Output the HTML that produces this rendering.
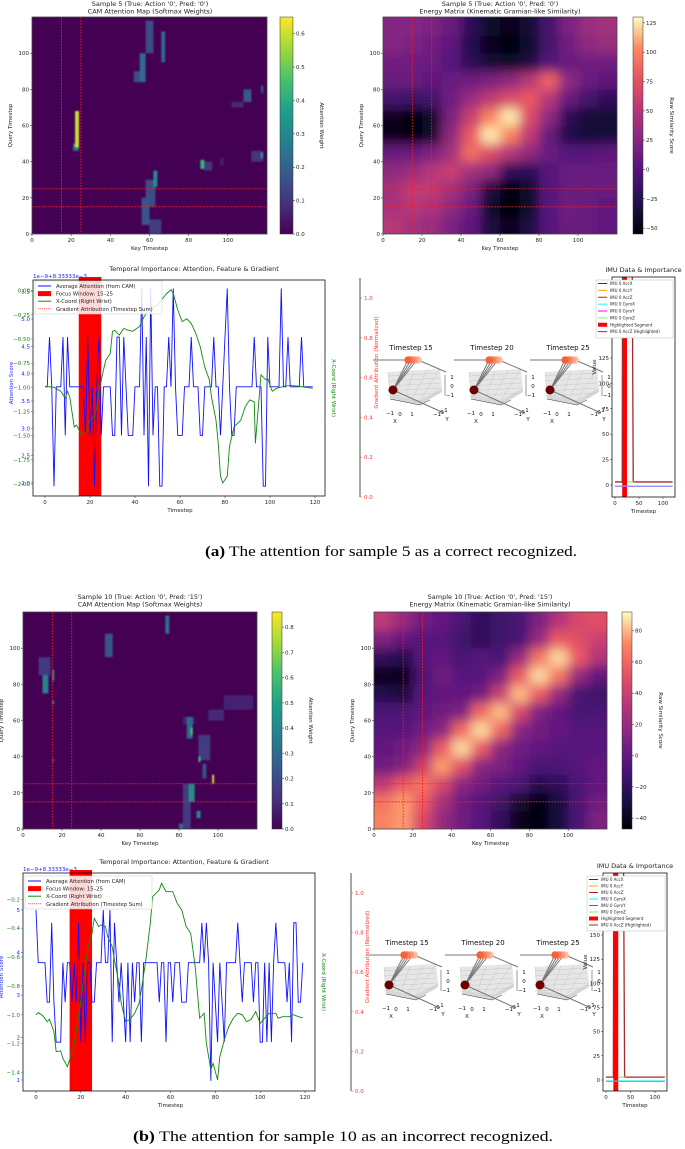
<!DOCTYPE html>
<html><head><meta charset="utf-8">
<style>
html,body{margin:0;padding:0;background:#fff;}
svg{display:block;font-family:"DejaVu Sans","Liberation Sans",sans-serif;}
</style></head>
<body>
<svg id="fig" width="685" height="1149" viewBox="0 0 685 1149" xmlns="http://www.w3.org/2000/svg">
<defs>
<filter id="blurE" x="-10%" y="-10%" width="120%" height="120%"><feGaussianBlur stdDeviation="5.5"/></filter>
<filter id="blurC"><feGaussianBlur stdDeviation="0.9"/></filter>
</defs>
<text x="205" y="556" font-family="Liberation Serif, serif" font-size="15" textLength="372" lengthAdjust="spacingAndGlyphs"><tspan font-weight="bold">(a)</tspan> The attention for sample 5 as a correct recognized.</text>
<text x="133" y="1141" font-family="Liberation Serif, serif" font-size="15" textLength="420" lengthAdjust="spacingAndGlyphs"><tspan font-weight="bold">(b)</tspan> The attention for sample 10 as an incorrect recognized.</text>
</svg>
<script>
// ---------- DATA ----------
const heatKeys = [0,20,40,60,80,100];
const energyA = [
 [50,40,35,20,5,-30,-45,-30,0,10,10,5],
 [45,50,45,30,10,-40,-55,-40,0,15,10,5],
 [40,55,55,40,20,-30,-50,-40,0,10,10,10],
 [30,35,50,60,40,30,-20,-20,0,10,10,10],
 [10,10,20,40,90,70,50,30,10,0,0,5],
 [-45,-50,-40,30,80,125,100,55,10,-25,-35,-35],
 [-45,-50,-40,20,60,100,125,70,30,-20,-35,-35],
 [-10,-15,-10,15,35,55,70,80,50,10,-10,-20],
 [10,10,5,10,15,20,30,50,85,30,10,5],
 [15,15,10,0,-20,-35,-40,-30,0,10,15,15],
 [25,20,15,5,-25,-45,-50,-40,-10,15,30,35],
 [25,25,20,10,-20,-40,-45,-35,-10,20,35,40]];
const energyB = [
 [70,75,45,20,5,-5,-20,-40,-45,-30,-10,10],
 [65,75,55,25,5,-5,-15,-35,-45,-30,-10,5],
 [35,55,65,45,15,5,-5,-10,-25,-20,-10,0],
 [5,10,40,75,50,15,10,0,-10,-10,-5,0],
 [0,5,15,55,85,55,15,5,0,-5,-5,-5],
 [-5,-5,5,15,60,85,60,15,5,0,-5,-5],
 [-10,-10,0,5,10,60,80,45,10,0,-10,-10],
 [-25,-30,-5,0,0,5,40,80,55,20,-10,-15],
 [-40,-40,-10,5,-5,-5,10,55,85,65,20,0],
 [-20,-25,-5,0,-10,-5,-10,20,65,85,55,30],
 [10,0,-5,-5,-15,-20,-15,-10,20,55,50,40],
 [35,20,5,0,-10,-20,-15,-10,10,30,45,50]];
// CAM blobs: [keyStart,keyEnd,queryStart,queryEnd,weight]
const camA = [[21,24,46,50,0.25],[22,24,48,68,0.6],[52,56,84,90,0.15],[55,58,84,100,0.22],[58,62,100,118,0.15],[66,68,95,112,0.22],
 [58,63,15,30,0.15],[56,60,5,20,0.17],[60,66,0,8,0.12],[62,64,26,35,0.32],[86,88,36,41,0.42],[88,92,35,40,0.1],[96,98,38,42,0.05],
 [102,108,70,73,0.08],[108,112,73,80,0.18],[117,118,78,82,0.22],[112,118,40,46,0.1],[117,118,42,45,0.38]];
const camB = [[73,75,108,118,0.32],[42,46,95,108,0.22],[8,14,85,95,0.15],[10,13,75,85,0.38],[15,16,82,88,0.5],[15,16,69,71,0.4],[15,16,37,39,0.2],
 [82,88,58,62,0.08],[84,87,50,62,0.3],[86,87,52,56,0.62],[90,96,38,52,0.15],[90,91,37,40,0.6],[92,94,28,36,0.22],[97,98,25,30,0.8],
 [95,103,60,66,0.1],[103,118,66,74,0.08],[82,86,0,25,0.15],[85,88,15,25,0.42],[89,91,6,10,0.4],[80,82,0,3,0.3]];

const timesteps = Array.from({length:120},(_,i)=>i);
const attnA = [3.76,3.76,4.67,3.76,1.94,3.76,3.76,3.76,4.67,2.87, 4.67,3.76,3.76,3.76,3.76,3.76,3.76,3.76,2.87,4.67,
 2.87,3.76,1.94,3.76,4.67,2.87,3.76,3.76,3.76,3.76, 2.87,2.87,4.67,4.67,2.87,4.67,3.76,2.87,2.87,2.87,
 3.76,3.76,3.76,5.56,2.87,4.67,1.94,5.56,2.87,3.76, 3.76,1.94,1.94,3.76,3.76,4.67,3.76,5.56,3.76,2.87,
 2.87,2.87,3.76,3.76,3.76,4.67,3.76,3.76,3.76,2.87, 2.87,3.76,3.76,3.76,3.76,4.67,3.76,3.76,2.87,3.76,
 4.67,5.56,3.76,2.87,2.87,3.76,3.76,3.76,3.76,3.76, 3.76,3.76,3.76,4.67,3.76,3.76,3.76,1.94,1.94,4.67,
 3.76,3.76,3.76,3.76,3.76,5.56,3.76,3.76,4.67,3.76, 3.76,3.76,3.76,3.76,4.67,3.76,3.76,3.76,3.76,3.76];
const attnB = [5.0,3.76,3.76,3.76,3.76,2.83,2.83,4.7,2.83,1.89, 1.89,1.89,3.76,2.83,3.76,3.76,2.83,3.76,2.83,4.7,
 1.89,3.76,1.89,3.76,3.76,2.83,2.83,3.76,3.76,3.76, 5.0,3.76,3.76,5.0,1.89,4.7,3.76,2.83,3.76,2.83,
 1.89,3.76,1.89,3.76,2.83,3.76,3.76,1.89,3.76,3.76, 3.76,3.76,3.76,3.76,3.76,2.83,3.76,3.76,1.89,3.76,
 3.76,2.83,3.76,3.76,3.76,2.83,2.83,2.83,3.76,3.76, 3.76,3.76,3.76,3.76,4.7,3.76,4.7,3.76,0.98,3.76,
 2.83,1.89,3.76,2.83,1.89,3.76,3.76,3.76,3.76,3.76, 4.7,3.76,2.83,3.76,3.76,3.76,3.76,2.83,3.76,3.76,
 1.89,1.89,3.76,1.89,3.76,1.89,3.76,4.7,3.76,3.76, 3.76,3.76,2.83,3.76,1.89,4.7,4.7,2.83,2.83,3.76];
const wristTA = [0,4,7,9,10,11,13,14,16,18,20,22,23,24,26,27,29,30,31,33,35,37,39,42,44,46,48,50,53,54,56,57,59,61,63,65,67,69,71,73,74,76,77,78,79,81,82,84,87,89,91,93,93.5,96,98,99,101,103,106,109,113,119];
const wristVA = [-0.99,-1.0,-1.04,-1.11,-1.04,-1.1,-1.41,-1.39,-1.48,-1.48,-1.34,-1.3,-1.2,-1.03,-0.82,-0.72,-0.65,-0.42,-0.41,-0.46,-0.39,-0.41,-0.42,-0.37,-0.27,-0.2,-0.17,-0.15,-0.06,-0.03,0.01,-0.03,-0.2,-0.32,-0.29,-0.34,-0.44,-0.58,-0.79,-0.92,-1.1,-1.34,-1.58,-1.92,-1.99,-1.92,-1.61,-1.41,-1.34,-1.2,-1.13,-1.15,-1.58,-0.87,-0.92,-0.91,-1.04,-1.01,-0.99,-0.98,-0.99,-1.01];
const wristTB = [0,1,3,5,6,8,9,11,12,14,15,17,19,21,23,25,26,28,29,31,32,34,35,37,38,40,42,44,46,47,49,51,52,55,56,58,61,63,65,67,69,71,73,75,76,78,79,81,82,84,86,88,90,92,94,96,98,100,102,104,107,108,110,113,115,117,119];
const wristVB = [-1.0,-0.985,-1.006,-1.048,-1.031,-1.117,-1.255,-1.251,-1.302,-1.359,-1.313,-1.198,-1.013,-0.782,-0.551,-0.436,-0.332,-0.389,-0.378,-0.389,-0.459,-0.528,-0.62,-0.782,-0.92,-1.048,-1.031,-0.99,-0.92,-0.828,-0.62,-0.366,-0.182,-0.135,-0.089,-0.147,-0.147,-0.228,-0.274,-0.389,-0.436,-0.666,-1.024,-0.99,-1.198,-1.382,-1.336,-1.452,-1.29,-1.175,-1.082,-1.024,-0.99,-1.0,-1.048,-1.031,-0.978,-1.059,-1.024,-0.99,-0.99,-1.024,-1.013,-1.013,-1.0,-1.013,-1.02];
const imuAccZT = [0,15,16,35,38,120];
const imuAccZV = [3,3,300,300,3,3];
const imuGyroZT = [25,40];
const imuGyroZV = [3,3];
const imuGyroT = [0,120];
const imuGyroV = [-1,-1];

// ---------- HELPERS ----------
const NS="http://www.w3.org/2000/svg";
const svg=document.getElementById('fig');
function mk(tag,a,p){const e=document.createElementNS(NS,tag);for(const k in a)e.setAttribute(k,a[k]);(p||svg).appendChild(e);return e;}
function nm(e,n,i){
 
 
 return e;}
function tx(x,y,s,o,p){o=o||{};const e=mk('text',Object.assign({x:x,y:y,'font-size':o.fs||5.5,fill:o.fill||'#222','text-anchor':o.anchor||'middle'},o.rot?{transform:`rotate(${o.rot} ${x} ${y})`}:{} ,o.fw?{'font-weight':o.fw}:{}),p);e.textContent=s;return e;}
function lin(d0,d1,r0,r1){return v=>r0+(v-d0)*(r1-r0)/(d1-d0);}
function interp(stops,t){t=Math.max(0,Math.min(1,t));const n=stops.length-1;const i=Math.min(n-1,Math.floor(t*n));const f=t*n-i;
 const a=stops[i],b=stops[i+1];const h=c=>[parseInt(c.slice(1,3),16),parseInt(c.slice(3,5),16),parseInt(c.slice(5,7),16)];
 const A=h(a),B=h(b);return `rgb(${A.map((v,k)=>Math.round(v+(B[k]-v)*f)).join(',')})`;}
const VIR=['#440154','#46327e','#365c8d','#277f8e','#1fa187','#4ac16d','#a0da39','#fde725'];
const MAG=['#000004','#1d1147','#51127c','#832681','#b73779','#e75263','#fc8961','#fcfdbf'];
let gid=0;
function colorbar(x0,x1,y0,y1,stops,vmin,vmax,ticks,label,name,dec){
 const id='cg'+(gid++);const g=mk('linearGradient',{id:id,x1:0,y1:1,x2:0,y2:0},svg.querySelector('defs'));
 stops.forEach((c,i)=>mk('stop',{offset:i/(stops.length-1),'stop-color':c},g));
 const r=mk('rect',{x:x0,y:y0,width:x1-x0,height:y1-y0,fill:`url(#${id})`,stroke:'#333','stroke-width':0.5});
 nm(r,name);
 const ys=lin(vmin,vmax,y1,y0);
 ticks.forEach(t=>{mk('line',{x1:x1,x2:x1+2,y1:ys(t),y2:ys(t),stroke:'#222','stroke-width':0.5});
  const l=tx(x1+3,ys(t)+2,(t<0?'\u2212':'')+Math.abs(t).toFixed(dec),{anchor:'start',fs:5.5});
  nm(l,name+'-tick');});
 const lab=tx(x1+27,(y0+y1)/2,label,{rot:90,fs:5.5});
 nm(lab,name+'-label');
}
function axesTicks(P,xs,ys,name){
 heatKeys.forEach(k=>{mk('line',{x1:xs(k),x2:xs(k),y1:P.y1,y2:P.y1+2,stroke:'#222','stroke-width':0.5});
  const t=tx(xs(k),P.y1+8,String(k));nm(t,name+'-x-tick');
  mk('line',{x1:P.x0-2,x2:P.x0,y1:ys(k),y2:ys(k),stroke:'#222','stroke-width':0.5});
  const u=tx(P.x0-3,ys(k)+2,String(k),{anchor:'end'});nm(u,name+'-y-tick');});
 const xl=tx((P.x0+P.x1)/2,P.y1+16,'Key Timestep');nm(xl,name+'-x-axis-title');
 const yl=tx(P.x0-20,(P.y0+P.y1)/2,'Query Timestep',{rot:-90});nm(yl,name+'-y-axis-title');
}
function focusLines(P,xs,ys,g){
 [15,25].forEach(k=>{
  const a=mk('line',{x1:xs(k),x2:xs(k),y1:P.y0,y2:P.y1,stroke:'#ff1a1a','stroke-width':0.7,'stroke-dasharray':'2,1'},g);nm(a,'focus-line-key');
  const b=mk('line',{x1:P.x0,x2:P.x1,y1:ys(k),y2:ys(k),stroke:'#ff1a1a','stroke-width':0.7,'stroke-dasharray':'2,1'},g);nm(b,'focus-line-query');});
}
function titles(cx,y,l1,l2,name){const a=tx(cx,y,l1,{fs:6.5});nm(a,name+'-title');const b=tx(cx,y+7.5,l2,{fs:6.5});nm(b,name+'-subtitle');}
function clip(P){const id='cp'+(gid++);const c=mk('clipPath',{id:id},svg.querySelector('defs'));mk('rect',{x:P.x0,y:P.y0,width:P.x1-P.x0,height:P.y1-P.y0},c);return id;}

function camMap(P,blobs,vmax,name){
 const xs=lin(0,120,P.x0,P.x1),ys=lin(0,120,P.y1,P.y0);
 const bg=mk('rect',{x:P.x0,y:P.y0,width:P.x1-P.x0,height:P.y1-P.y0,fill:'#440154'});nm(bg,name+'-background');
 const g=mk('g',{'clip-path':`url(#${clip(P)})`});nm(g,name+'-cells');
 const gb=mk('g',{filter:'url(#blurC)'},g);
 blobs.forEach(b=>{const r=mk('rect',{x:xs(b[0]),y:ys(b[3]),width:xs(b[1])-xs(b[0]),height:ys(b[2])-ys(b[3]),fill:interp(VIR,b[4]/vmax)},gb);
  nm(r,'attention-cell');});
 focusLines(P,xs,ys,g);
 const fr=mk('rect',{x:P.x0,y:P.y0,width:P.x1-P.x0,height:P.y1-P.y0,fill:'none',stroke:'#444','stroke-width':0.8});nm(fr,name+'-frame');
 axesTicks(P,xs,ys,name);
}
function energyMap(P,grid,vmin,vmax,name){
 const xs=lin(0,120,P.x0,P.x1),ys=lin(0,120,P.y1,P.y0);
 const g=mk('g',{'clip-path':`url(#${clip(P)})`});nm(g,name+'-cells');
 const gb=mk('g',{filter:'url(#blurE)'},g);
 const n=grid.length;
 grid.forEach((row,r)=>row.forEach((v,c)=>{
  let x=xs(c*120/n),w=xs((c+1)*120/n)-x,y=ys((r+1)*120/n),h=ys(r*120/n)-y;
  if(c===0){x-=25;w+=25;} if(c===n-1){w+=25;} if(r===0){h+=25;} if(r===n-1){y-=25;h+=25;}
  const e=mk('rect',{x:x,y:y,width:w+0.5,height:h+0.5,fill:interp(MAG,(v-vmin)/(vmax-vmin))},gb);
  nm(e,'energy-cell');}));
 focusLines(P,xs,ys,g);
 const fr=mk('rect',{x:P.x0,y:P.y0,width:P.x1-P.x0,height:P.y1-P.y0,fill:'none',stroke:'#444','stroke-width':0.8});nm(fr,name+'-frame');
 axesTicks(P,xs,ys,name);
}
function poly(xsF,ysF,T,V){return T.map((t,i)=>xsF(t).toFixed(2)+','+ysF(V[i]).toFixed(2)).join(' ');}

function lineChart(C){
 const P=C.P;const xs=lin(0,120,C.x0px,C.x120px);
 const bY=C.blueY,gY=C.greenY;
 const ttl=tx((P.x0+P.x1)/2+15,P.y0-9,'Temporal Importance: Attention, Feature & Gradient',{fs:6.5});nm(ttl,'temporal-chart-title');
 const off=tx(P.x0,P.y0-2,'1e\u22129+8.33333e\u22123',{anchor:'start',fill:'#1a1aff',fs:5.5});nm(off,'offset-label');
 const cid=clip({x0:P.x0,x1:P.x1,y0:P.y0-3,y1:P.y1});
 const fw=mk('rect',{x:xs(15),y:P.y0-3,width:xs(25)-xs(15),height:P.y1-P.y0+3,fill:'#ff0000'});nm(fw,'focus-window');
 const g=mk('g',{'clip-path':`url(#${cid})`});nm(g,'temporal-series');
 const bl=mk('polyline',{points:poly(xs,bY,timesteps,C.attn),fill:'none',stroke:'#1010ff','stroke-width':0.9},g);nm(bl,'attention-line');
 const gl=mk('polyline',{points:poly(xs,gY,C.wT,C.wV),fill:'none',stroke:'#118811','stroke-width':0.9},g);nm(gl,'wrist-x-line');
 const fr=mk('rect',{x:P.x0,y:P.y0,width:P.x1-P.x0,height:P.y1-P.y0,fill:'none',stroke:'#111','stroke-width':0.8});nm(fr,'temporal-frame');
 [0,20,40,60,80,100,120].forEach(t=>{mk('line',{x1:xs(t),x2:xs(t),y1:P.y1,y2:P.y1+2,stroke:'#222','stroke-width':0.5});const l=tx(xs(t),P.y1+8,String(t));nm(l,'x-tick');});
 const xl=tx(xs(60),P.y1+16,'Timestep');nm(xl,'x-axis-title');
 C.bTicks.forEach((t,i)=>{mk('line',{x1:P.x0-2,x2:P.x0,y1:bY(t),y2:bY(t),stroke:'#22f','stroke-width':0.5});const l=tx(P.x0-3,bY(t)+2,C.bLabels[i],{anchor:'end',fill:'#2222ff'});nm(l,'attention-tick');});
 C.gTicks.forEach((t,i)=>{mk('line',{x1:P.x0-2,x2:P.x0,y1:gY(t),y2:gY(t),stroke:'#181','stroke-width':0.5});const l=tx(P.x0-3,gY(t)+2,C.gLabels[i],{anchor:'end',fill:'#118811'});nm(l,'wrist-tick');});
 const yl=tx(P.x0-20,(P.y0+P.y1)/2-5,'Attention Score',{rot:-90,fill:'#2222ff'});nm(yl,'attention-axis-title');
 const yr=tx(P.x1+7,(P.y0+P.y1)/2,'X-Coord (Right Wrist)',{rot:90,fill:'#118811'});nm(yr,'wrist-axis-title');
 const L=C.leg;const lb=mk('rect',{x:L.x,y:L.y,width:127,height:33,fill:'#fff','fill-opacity':0.85,stroke:'#ccc','stroke-width':0.5});nm(lb,'legend-box');
 const items=[['Average Attention (from CAM)','#1010ff','line'],['Focus Window: 15\u201325','#ff0000','patch'],['X-Coord (Right Wrist)','#118811','line'],['Gradient Attribution (Timestep Sum)','#ff0000','dot']];
 items.forEach((it,i)=>{const y=L.y+5+i*7.6;
  if(it[2]==='patch'){mk('rect',{x:L.x+3,y:y-2.5,width:13,height:5,fill:it[1]});}
  else{mk('line',{x1:L.x+3,x2:L.x+16,y1:y,y2:y,stroke:it[1],'stroke-width':it[2]==='dot'?0.6:1,'stroke-dasharray':it[2]==='dot'?'1,1':'none'});}
  const t=tx(L.x+21,y+2,it[0],{anchor:'start',fs:5.3});nm(t,'legend-entry');});
}
function gradAxis(x,y0,y1,yAt1){
 const ys=lin(0,1,y0,yAt1);
 const s=mk('line',{x1:x,x2:x,y1:y1,y2:y0,stroke:'#222','stroke-width':0.8});nm(s,'gradient-axis-spine');
 [0,0.2,0.4,0.6,0.8,1.0].forEach(t=>{mk('line',{x1:x,x2:x+2,y1:ys(t),y2:ys(t),stroke:'#f33','stroke-width':0.5});const l=tx(x+4,ys(t)+2,t.toFixed(1),{anchor:'start',fill:'#ff3333'});nm(l,'gradient-tick');});
 const lb=tx(x+18,(y0+y1)/2-25,'Gradient Attribution (Normalized)',{rot:-90,fill:'#ff3333'});nm(lb,'gradient-axis-title');
}
function plot3d(ox,oy,title){
 const g=mk('g',{transform:`translate(${ox},${oy})`});nm(g,'pose-3d-'+title.replace(' ','-').toLowerCase());
 const t=tx(41,20,title,{fs:7,fill:'#111'},g);nm(t,'pose-title');
 mk('polygon',{points:'18,42 70,39 72,58 50,70 20,65',fill:'#e6e6e6'},g);
 mk('polygon',{points:'20,65 50,70 72,58 72,62 50,75 20,69',fill:'#d6d6d6'},g);
 for(let i=0;i<5;i++){mk('line',{x1:18+i*13,y1:42-i*0.75,x2:20+i*7.5,y2:65+i*1.2,stroke:'#c0c0c0','stroke-width':0.4},g);
  mk('line',{x1:18,y1:46+i*5,x2:70,y2:43+i*5,stroke:'#c0c0c0','stroke-width':0.4},g);}
 mk('line',{x1:20,y1:69,x2:50,y2:75,stroke:'#333','stroke-width':0.5},g);mk('line',{x1:50,y1:75,x2:60,y2:70,stroke:'#333','stroke-width':0.5},g);
 mk('line',{x1:75,y1:45,x2:75,y2:66,stroke:'#333','stroke-width':0.5},g);
 const gr={stroke:'#777','stroke-width':1};
 mk('line',Object.assign({x1:3,y1:30,x2:38,y2:30},gr),g);mk('line',Object.assign({x1:48,y1:30,x2:76,y2:42},gr),g);
 [38,41,44,47].forEach(x=>mk('line',Object.assign({x1:23,y1:60,x2:x,y2:30,'stroke-width':0.7},gr),g));
 mk('line',Object.assign({x1:23,y1:60,x2:74,y2:83},gr),g);
 ['#fdbb9f','#fc9a7a','#fb7d5b','#f4623a'].forEach((c,i)=>{const b=mk('circle',{cx:48-i*3.3,cy:30,r:3.8,fill:c},g);nm(b,'joint-marker');});
 const d=mk('circle',{cx:23,cy:60,r:4.5,fill:'#6b0000'},g);nm(d,'wrist-marker');
 [['1',82,49],['0',82,58],['\u22121',80,67],['\u22121',20,85],['0',30,86],['1',42,86],['X',25,93],['\u22121',67,86],['0',72,84],['1',76,82],['Y',77,91]].forEach(a=>tx(a[1],a[2],a[0],{fs:5.5,fill:'#111'},g));
}
function imuChart(C){
 const P=C.P;const xs=lin(0,100,C.x0px,C.x100px),ys=lin(0,C.ymaxT,C.y0px,C.ymaxPx);
 const t=tx((P.x0+P.x1)/2,P.y0-5,'IMU Data & Importance',{fs:6.5});nm(t,'imu-title');
 const cid=clip(P);
 const g=mk('g',{'clip-path':`url(#${cid})`});nm(g,'imu-series');
 const hs=mk('rect',{x:xs(15),y:P.y0,width:xs(25)-xs(15),height:P.y1-P.y0,fill:'#ff0000'},g);nm(hs,'highlighted-segment');
 const a=mk('polyline',{points:poly(xs,ys,imuAccZT,imuAccZV),fill:'none',stroke:'#a52a2a','stroke-width':1.3},g);nm(a,'acc-z-line');
 const gz=mk('polyline',{points:poly(xs,ys,imuGyroZT,imuGyroZV),fill:'none',stroke:'#44ff44','stroke-width':1},g);nm(gz,'gyro-z-line');
 const gx=mk('polyline',{points:poly(xs,ys,imuGyroT,imuGyroV),fill:'none',stroke:'#00e5ff','stroke-width':1},g);nm(gx,'gyro-x-line');
 const gy=mk('polyline',{points:poly(xs,ys,imuGyroT,imuGyroV.map(v=>v-0.6)),fill:'none',stroke:'#ff33ff','stroke-width':0.6},g);nm(gy,'gyro-y-line');
 const fr=mk('rect',{x:P.x0,y:P.y0,width:P.x1-P.x0,height:P.y1-P.y0,fill:'none',stroke:'#111','stroke-width':0.8});nm(fr,'imu-frame');
 C.yT.forEach(v=>{mk('line',{x1:P.x0-2,x2:P.x0,y1:ys(v),y2:ys(v),stroke:'#222','stroke-width':0.5});const l=tx(P.x0-3,ys(v)+2,String(v),{anchor:'end'});nm(l,'imu-y-tick');});
 [0,50,100].forEach(v=>{mk('line',{x1:xs(v),x2:xs(v),y1:P.y1,y2:P.y1+2,stroke:'#222','stroke-width':0.5});const l=tx(xs(v),P.y1+8,String(v));nm(l,'imu-x-tick');});
 const xl=tx((P.x0+P.x1)/2,P.y1+16,'Timestep');nm(xl,'imu-x-axis-title');
 const yl=tx(P.x0-16,(P.y0+P.y1)/2-20,'Value',{rot:-90});nm(yl,'imu-y-axis-title');
 const L=C.leg;const lb=mk('rect',{x:L.x,y:L.y,width:L.w,height:L.h,fill:'#fff',stroke:'#bbb','stroke-width':0.5});nm(lb,'imu-legend');
 const items=[['IMU 0 AccX','#800080'],['IMU 0 AccY','#ffa500'],['IMU 0 AccZ','#b22222'],['IMU 0 GyroX','#00ffff'],['IMU 0 GyroY','#ff00ff'],['IMU 0 GyroZ','#66ff66'],['Highlighted Segment','#ff0000'],['IMU 0 AccZ (Highlighted)','#a52a2a']];
 const step=(L.h-3)/8;
 items.forEach((it,i)=>{const y=L.y+3.5+i*step;
  if(i===6)mk('rect',{x:L.x+2,y:y-2,width:9,height:4,fill:it[1]});else mk('line',{x1:L.x+2,x2:L.x+11,y1:y,y2:y,stroke:it[1],'stroke-width':1});
  const e=tx(L.x+14,y+1.5,it[0],{anchor:'start',fs:4});nm(e,'imu-legend-entry');});
}

// ---------- ROW A ----------
const PA1={x0:32,x1:267,y0:17,y1:234}, PA2={x0:383,x1:617,y0:17,y1:234};
titles(150,6,"Sample 5 (True: Action '0', Pred: '0')","CAM Attention Map (Softmax Weights)",'cam-a');
camMap(PA1,camA,0.65,'cam-map-a');
colorbar(280,293,17,234,VIR,0,0.65,[0,0.1,0.2,0.3,0.4,0.5,0.6],'Attention Weight','cam-a-colorbar',1);
titles(500,6,"Sample 5 (True: Action '0', Pred: '0')","Energy Matrix (Kinematic Gramian-like Similarity)",'energy-a');
energyMap(PA2,energyA,-55,130,'energy-map-a');
colorbar(633,643,17,234,MAG,-55,130,[-50,-25,0,25,50,75,100,125],'Raw Similarity Score','energy-a-colorbar',0);

lineChart({P:{x0:33,x1:325,y0:280,y1:496},x0px:45,x120px:315,
 blueY:lin(5.5,3.0,291.7,428.3),greenY:lin(0,-2,290.7,484),attn:attnA,wT:wristTA,wV:wristVA,
 bTicks:[2.0,2.5,3.0,3.5,4.0,4.5,5.0,5.5],bLabels:['2.0','2.5','3.0','3.5','4.0','4.5','5.0','5.5'],
 gTicks:[0,-0.25,-0.5,-0.75,-1.0,-1.25,-1.5,-1.75,-2.0],gLabels:['0.00','\u22120.25','\u22120.50','\u22120.75','\u22121.00','\u22121.25','\u22121.50','\u22121.75','\u22122.00'],
 leg:{x:35,y:281}});
gradAxis(360,497,278,298);
plot3d(370,330,'Timestep 15');plot3d(451,330,'Timestep 20');plot3d(527,330,'Timestep 25');
imuChart({P:{x0:612,x1:675,y0:277,y1:497},x0px:615,x100px:663,ymaxT:125,y0px:485,ymaxPx:358,yT:[0,25,50,75,100,125],leg:{x:596,y:280,w:77,h:58}});

// ---------- ROW B ----------
const PB1={x0:23,x1:257,y0:612,y1:829}, PB2={x0:374,x1:607,y0:612,y1:829};
titles(140,599,"Sample 10 (True: Action '0', Pred: '15')","CAM Attention Map (Softmax Weights)",'cam-b');
camMap(PB1,camB,0.86,'cam-map-b');
colorbar(272,282,612,829,VIR,0,0.86,[0,0.1,0.2,0.3,0.4,0.5,0.6,0.7,0.8],'Attention Weight','cam-b-colorbar',1);
titles(490,599,"Sample 10 (True: Action '0', Pred: '15')","Energy Matrix (Kinematic Gramian-like Similarity)",'energy-b');
energyMap(PB2,energyB,-47,92,'energy-map-b');
colorbar(622,632,612,829,MAG,-47,92,[-40,-20,0,20,40,60,80],'Raw Similarity Score','energy-b-colorbar',0);

lineChart({P:{x0:23,x1:315,y0:873,y1:1091},x0px:36,x120px:305,
 blueY:lin(5,1,910,1080),greenY:lin(-0.2,-1.4,899.3,1072.5),attn:attnB,wT:wristTB,wV:wristVB,
 bTicks:[1,2,3,4,5],bLabels:['1','2','3','4','5'],
 gTicks:[-0.2,-0.4,-0.6,-0.8,-1.0,-1.2,-1.4],gLabels:['\u22120.2','\u22120.4','\u22120.6','\u22120.8','\u22121.0','\u22121.2','\u22121.4'],
 leg:{x:25,y:876}});
gradAxis(351,1091,873,893);
plot3d(366,925,'Timestep 15');plot3d(442,925,'Timestep 20');plot3d(517,925,'Timestep 25');
imuChart({P:{x0:603,x1:667,y0:873,y1:1091},x0px:606,x100px:655,ymaxT:150,y0px:1080,ymaxPx:935,yT:[0,25,50,75,100,125,150],leg:{x:587,y:876,w:78,h:55}});
</script>
</body></html>
